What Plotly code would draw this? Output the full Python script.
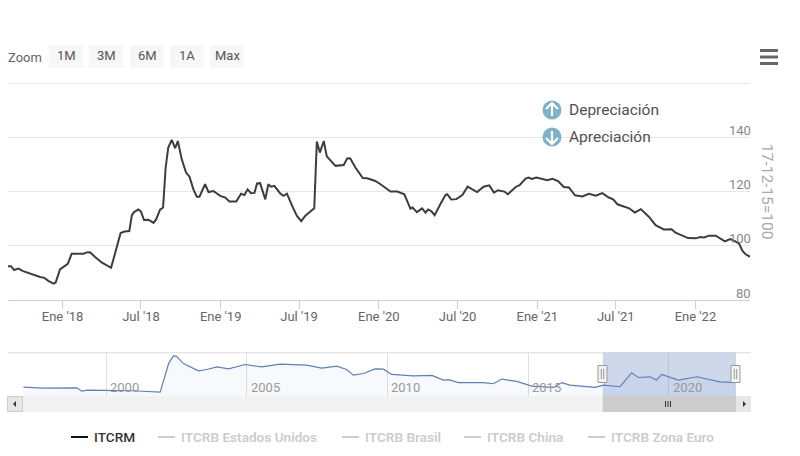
import pandas as pd
import plotly.graph_objects as go

# ---- data ----
days_from_2018 = [-126,-119,-112,-102,-91,-75,-52,-42,-33,-21,-16,-6,2,12,21,29,38,48,58,64,75,91,112,121,134,143,154,
    160,165,175,181,188,198,210,216,225,232,238,244,252,260,266,275,285,293,302,310,316,329,337,348,364,376,385,401,412,420,427,435,443,
    449,456,468,475,481,489,503,510,518,530,541,551,560,572,581,587,594,603,610,630,649,657,664,676,693,703,722,734,744,
    757,773,789,803,808,818,830,838,844,851,859,872,884,888,897,909,923,935,957,972,985,996,1005,1020,1028,
    1046,1055,1069,1076,1083,1094,1119,1131,1144,1157,1169,1183,1200,1215,1231,1246,1261,1271,1281,1288,1296,1308,1321,
    1335,1354,1369,1388,1406,1415,1431,1444,1462,1472,1481,1492,1508,1519,1529,1541,1552,1562,1570,1577,1587]
itcrm = [92.3,92.3,90.9,91.4,90.5,89.5,88.3,88.0,86.9,85.9,86.3,91.1,92.1,93.2,96.9,96.9,96.7,96.9,97.5,97.4,95.7,93.6,91.7,97.3,104.6,105.1,105.3,
    111.2,112.3,113.3,112.5,109.4,109.5,108.3,109.6,113.2,114,128.8,136.2,139,135.9,138.6,131.9,126.9,125.4,120.7,118,118,122.6,119.7,120.1,118.3,117.7,116.2,116.2,119.1,118.6,120.7,119.3,119.4,
    122.9,123,117,122.6,121.7,122,119.1,118.3,119.1,114.6,110.9,109,110.9,112.5,113.7,138.4,134.3,138.6,132.9,129.4,129.7,132.1,132.2,128.8,124.9,124.8,123.8,122.6,121.4,
    119.9,119.9,118.9,113.6,114,112.3,113.7,112.1,113.3,112.7,111.2,115.2,118.6,118.9,117,117.1,118.6,121.7,119.7,121.7,122.2,119.5,120.4,119.9,118.9,
    121.6,122.3,124.7,125.1,124.6,125.1,124.1,124.6,123.8,121.6,121.4,118.5,118.1,119.1,118.4,119.3,117.7,117,115.2,114.8,114.6,113.7,112.1,
    113.4,110.5,107.5,105.9,106,104.7,103.7,102.7,102.6,103.1,102.9,103.6,103.6,102.5,101.5,102.3,101.6,100.6,97.9,96.7,95.8]

nav_years = [1997.06,1997.77,1998.96,1999.13,1999.34,2000.02,2000.97,2001.92,2002.04,2002.22,2002.39,2002.49,2002.75,2002.99,2003.28,2003.58,2003.94,2004.35,2004.94,2005.53,2006.18,2007.13,2007.66,2008.2,2008.55,2008.79,2009.15,2009.56,2009.86,2010.15,
    2010.45,2010.92,2011.58,2011.99,2012.17,2012.53,2013.41,2013.77,2014.06,2014.6,2015.13,2015.9,2016.2,2016.49,2017.38,2017.68,2018.27,2018.68,2018.92,2019.34,2019.57,2019.75,2020.34,2021.0,2021.82,2022.36]
nav_values = [77.4,73,74.5,60,64.4,64.4,61.6,56,107.6,179,212.5,211,179,165,148,153.5,165,156.4,175,165,176.5,172,159,168,153.5,129,136,156,155,132,
    129,126,128,108,110,97,97,92,112,102,82,76,97,86,76,86,79,139,119,122,108,132,108,122,100,97]

tick_dates = ["2018-01-01","2018-07-01","2019-01-01","2019-07-01","2020-01-01","2020-07-01","2021-01-01","2021-07-01","2022-01-01"]
tick_labels = ["Ene '18","Jul '18","Ene '19","Jul '19","Ene '20","Jul '20","Ene '21","Jul '21","Ene '22"]
y_ticks = [80,100,120,140,160]
y_labelled = [80,100,120,140]
nav_tick_years = [2000,2005,2010,2015,2020]
zoom_buttons = ["1M","3M","6M","1A","Max"]
legend_names = ["ITCRM","ITCRB Estados Unidos","ITCRB Brasil","ITCRB China","ITCRB Zona Euro"]
arrow_labels = ["Depreciación","Apreciación"]
y_title = "17-12-15=100"

# ---- layout constants ----
W, H = 800, 456
FONT = "Roboto"
def px(x): return x / W
def py(y): return 1 - y / H

dates = [pd.Timestamp("2018-01-01") + pd.Timedelta(days=d) for d in days_from_2018]
def year_to_date(y):
    return pd.Timestamp(int(y), 1, 1) + pd.Timedelta(days=(y - int(y)) * 365.25)
nav_dates = [year_to_date(y) for y in nav_years]

fig = go.Figure()
fig.add_trace(go.Scatter(x=dates, y=itcrm, mode="lines", name="ITCRM", xaxis="x", yaxis="y",
                         line=dict(color="#3d3d3d", width=2), hoverinfo="x+y"))
fig.add_trace(go.Scatter(x=nav_dates, y=nav_values, mode="lines", name="Navegador", xaxis="x2", yaxis="y2",
                         line=dict(color="#5f7fb8", width=1.2), fill="tozeroy",
                         fillcolor="rgba(102,133,194,0.05)", hoverinfo="skip"))

shapes, annotations = [], []
def rect(x0, y0, x1, y1, fill, line=None, lw=1, layer="above"):
    shapes.append(dict(type="rect", xref="paper", yref="paper", x0=px(x0), x1=px(x1), y0=py(y1), y1=py(y0),
                       fillcolor=fill, line=dict(color=line or fill, width=lw if line else 0), layer=layer))
def hline(x0, x1, y, color, lw=1):
    shapes.append(dict(type="line", xref="paper", yref="paper", x0=px(x0), x1=px(x1), y0=py(y), y1=py(y),
                       line=dict(color=color, width=lw), layer="above"))
def vline(x, y0, y1, color, lw=1):
    shapes.append(dict(type="line", xref="paper", yref="paper", x0=px(x), x1=px(x), y0=py(y0), y1=py(y1),
                       line=dict(color=color, width=lw), layer="above"))
def text(x, y, s, size=12, color="#666", anchor="left", weight=None, angle=0):
    annotations.append(dict(xref="paper", yref="paper", x=px(x), y=py(y), text=s, showarrow=False,
                            xanchor=anchor, yanchor="middle", textangle=angle, borderpad=0, borderwidth=0,
                            font=dict(family=FONT, size=size, color=color, weight=weight)))

# y tick labels, sitting just above their gridlines at the right edge
for v in y_labelled:
    annotations.append(dict(xref="paper", yref="y", x=px(751), y=v, text=str(v), showarrow=False,
                            xanchor="right", yanchor="middle", yshift=6.5, borderpad=0, borderwidth=0,
                            font=dict(family=FONT, size=13, color="#888")))

# zoom buttons
text(8, 57, "Zoom", size=13, color="#666")
for s, x0 in zip(zoom_buttons, [49, 89, 130, 170, 210]):
    rect(x0, 45, x0 + 34, 68, "#f7f7f7", layer="below")
    text(x0 + 17, 55.5, s, size=13, color="#555", anchor="center")

# hamburger
for y in [50.5, 57, 63.5]:
    hline(760, 778, y, "#666666", 3)

# arrow key
for y, s, up in zip([110, 137], arrow_labels, [True, False]):
    shapes.append(dict(type="circle", xref="paper", yref="paper", x0=px(542.5), x1=px(561.5),
                       y0=py(y + 9.5), y1=py(y - 9.5), fillcolor="#7fb2c8", line=dict(width=0), layer="above"))
    d = -1 if up else 1
    vline(552, y - 6 * d, y + 6.5 * d, "white", 2.2)
    shapes.append(dict(type="path", xref="paper", yref="paper",
                       path=f"M {px(546)} {py(y + 1*d)} L {px(552)} {py(y + 7*d)} L {px(558)} {py(y + 1*d)}",
                       line=dict(color="white", width=2.2), layer="above"))
    text(569, y, s, size=15.5, color="#505050")

# y title
text(767, 191, y_title, size=15.5, color="#a8a8a8", anchor="center", angle=90)

# navigator chrome
hline(8, 751, 352.7, "#dddddd")
nav_start, nav_end = "1996-07-06", "2022-05-24"
shapes.append(dict(type="rect", xref="x2", yref="paper", x0=dates[0], x1=nav_end, y0=py(396), y1=py(352.7),
                   fillcolor="rgba(102,133,194,0.32)", line=dict(width=0), layer="above"))
for yr in nav_tick_years:
    annotations.append(dict(xref="x2", yref="paper", x=f"{yr}-01-01", y=py(387), text=str(yr), showarrow=False,
                            xanchor="left", xshift=4, yanchor="middle", borderpad=0, borderwidth=0,
                            font=dict(family=FONT, size=13, color="#999")))
# scrollbar
rect(8, 396, 751, 412, "#f2f2f2")
rect(7.5, 396.5, 22.5, 411.5, "#e6e6e6", "#cccccc")
rect(736, 396, 751, 412, "#e6e6e6")
shapes.append(dict(type="rect", xref="x2", yref="paper", x0=dates[0], x1=nav_end, y0=py(412), y1=py(396),
                   fillcolor="#cccccc", line=dict(width=0), layer="above"))
for x in [665.5, 668, 670.5]:
    vline(x, 401, 407, "#333333")
for pts in ["M {} {} L {} {} L {} {} Z".format(px(13), py(404), px(16), py(401), px(16), py(407)),
            "M {} {} L {} {} L {} {} Z".format(px(746), py(404), px(743), py(401), px(743), py(407))]:
    shapes.append(dict(type="path", xref="paper", yref="paper", path=pts, fillcolor="#333333", line=dict(width=0), layer="above"))
# handles
for cx in [602.5, 735.5]:
    rect(cx - 4.5, 365.5, cx + 4.5, 382.5, "#f2f2f2", "#999999")
    vline(cx - 1.2, 369, 379, "#999999")
    vline(cx + 1.2, 369, 379, "#999999")

# legend
for s, x0, col, lc, wt in zip(legend_names, [71, 158, 342, 464, 588],
                              ["#333333"] + ["#cccccc"] * 4, ["#111111"] + ["#cccccc"] * 4,
                              [500, 600, 600, 600, 600]):
    hline(x0, x0 + 17, 437, lc, 2)
    text(x0 + 23, 437, s, size=13.6, color=col, weight=wt)

fig.update_layout(
    width=W, height=H, autosize=False, margin=dict(l=0, r=0, t=0, b=0),
    paper_bgcolor="white", plot_bgcolor="white", showlegend=False,
    shapes=shapes, annotations=annotations, hovermode="x",
    font=dict(family=FONT, color="#666"),
    xaxis=dict(domain=[px(8), px(750)], range=[dates[0], dates[-1]], tickmode="array",
               tickvals=tick_dates, ticktext=tick_labels, ticks="outside", ticklen=8, tickcolor="#d0d0d0",
               ticklabelstandoff=-3,
               showgrid=False, zeroline=False, showline=True, linecolor="#ccd0d8", linewidth=1,
               tickfont=dict(family=FONT, size=13, color="#666"), anchor="y"),
    yaxis=dict(domain=[py(299.5), py(82)], range=[80, 160.4], side="right", tickmode="array",
               tickvals=y_ticks, showticklabels=False,
               showgrid=True, gridcolor="#e6e6e6", gridwidth=1, zeroline=False, showline=False, anchor="x"),
    xaxis2=dict(domain=[px(8), px(736)], range=[nav_start, nav_end], tickmode="array",
                tickvals=[f"{y}-01-01" for y in nav_tick_years], showticklabels=False,
                showgrid=True, gridcolor="#e0e0e0", zeroline=False, showline=False, anchor="y2"),
    yaxis2=dict(domain=[py(396), py(352.7)], range=[39, 226], showticklabels=False, showgrid=False,
                zeroline=False, showline=False, anchor="x2"),
)

fig.write_html("out.html", config={"displayModeBar": False},
               post_script="document.body.style.margin='0';")
